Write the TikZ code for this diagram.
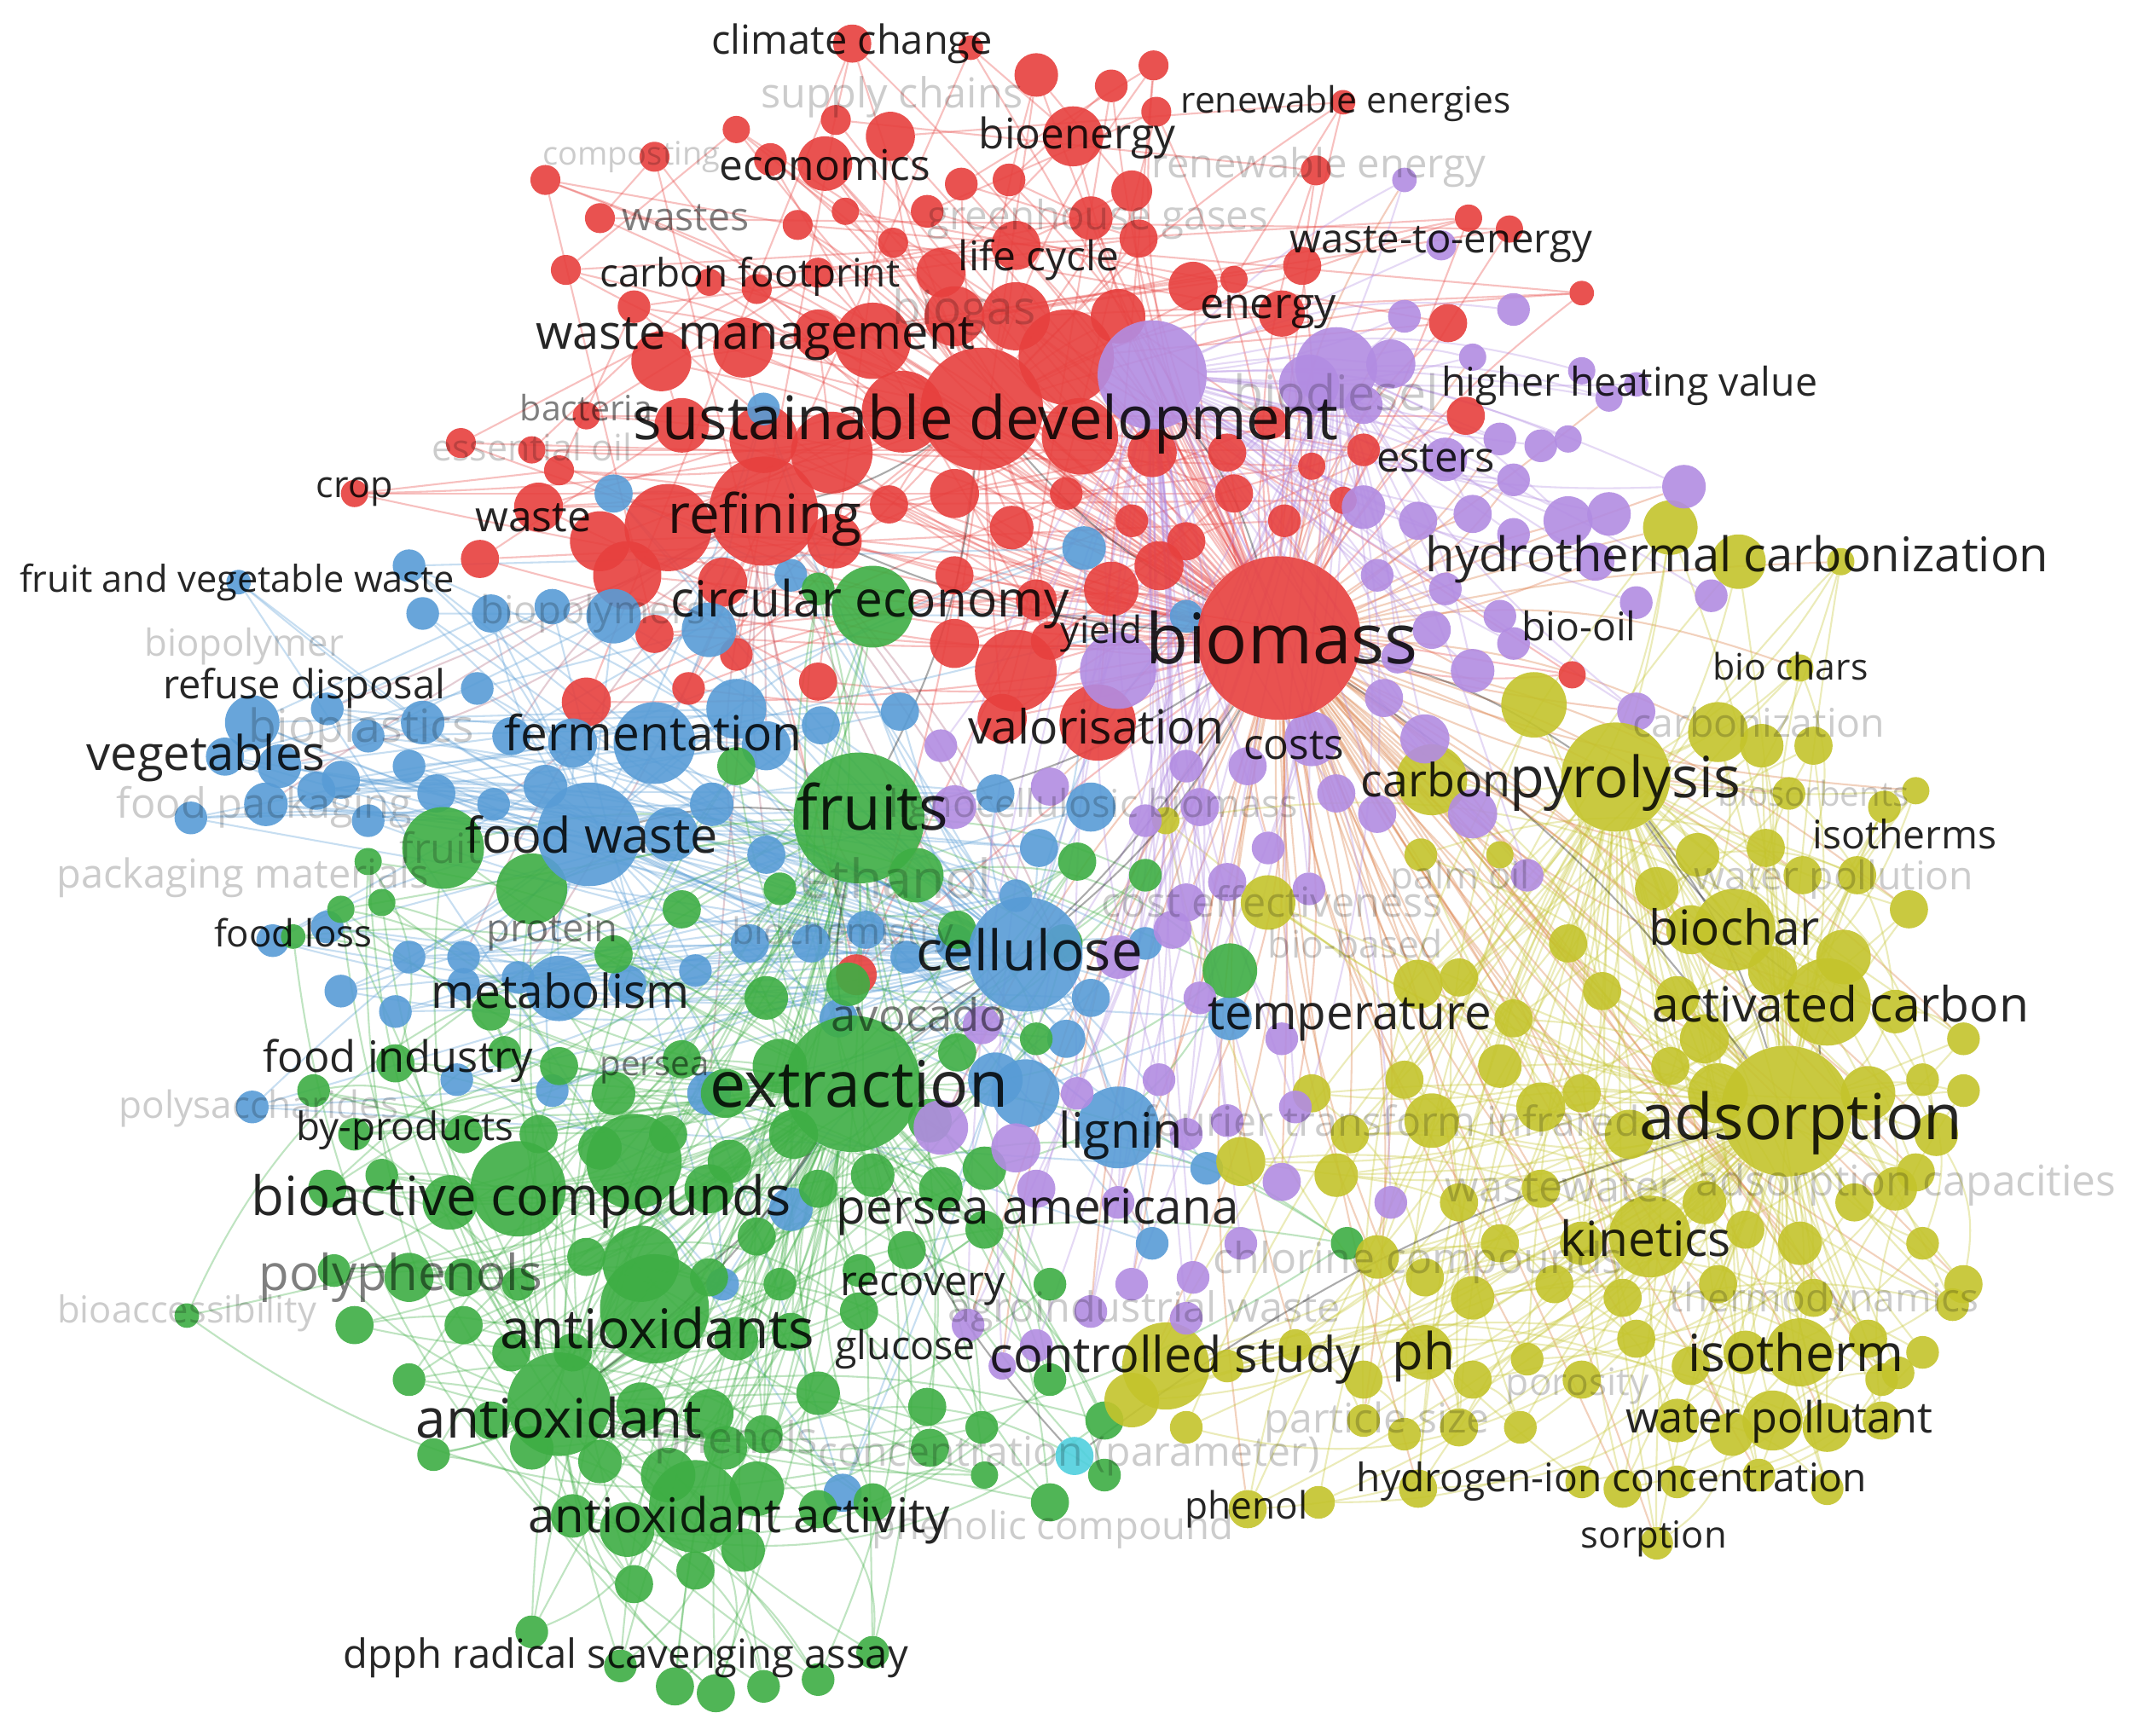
\documentclass[tikz,border=0pt]{standalone}
\usepackage{fontspec}
\setmainfont{Open Sans}
\usepackage{graphicx}
\pgfdeclarelayer{bg}
\pgfsetlayers{bg,main}
\definecolor{cR}{RGB}{231,64,62}
\definecolor{cB}{RGB}{88,156,214}
\definecolor{cG}{RGB}{62,174,68}
\definecolor{cY}{RGB}{196,196,44}
\definecolor{cP}{RGB}{178,140,226}
\definecolor{cC}{RGB}{80,208,222}
\tikzset{
  bub/.style={circle, inner sep=0pt, draw=none, fill opacity=0.9},
  rb/.style={bub, fill=cR},
  bb/.style={bub, fill=cB},
  gb/.style={bub, fill=cG},
  yb/.style={bub, fill=cY},
  pb/.style={bub, fill=cP},
  cb/.style={bub, fill=cC},
  edg/.style={line width=1.3pt, draw opacity=0.33},
  lab/.style={inner sep=0pt, text=black, text opacity=0.85},
  mlab/.style={inner sep=0pt, text=black, text opacity=0.5},
  glab/.style={inner sep=0pt, text=black, text opacity=0.2},
}
\begin{document}
\begin{tikzpicture}[x=1pt,y=-1pt]
\useasboundingbox (0,0) rectangle (1568,1273);
% ---------- circles ----------
\foreach \x/\y/\r [count=\i] in {625/32/14, 712/35/9, 760/55/16, 815/63/12, 846/48/11, 848/82/11, 653/100/18, 613/88/11, 540/95/10, 480/115/11, 400/132/11, 565/117/12, 605/120/20, 787/100/22, 830/140/15, 740/132/12, 705/135/12, 680/155/12, 985/75/9, 965/125/11,
 415/198/11, 440/160/11, 585/165/11, 620/155/10, 655/178/11, 690/200/18, 745/180/18, 800/160/16, 835/175/14, 875/210/18, 905/205/10, 955/195/14, 1077/160/10, 1107/168/10, 1160/215/9, 1062/237/14, 940/230/17, 555/212/11, 520/207/10, 600/200/11, 465/225/12, 485/265/22, 545/255/22, 600/245/18, 640/250/28, 700/232/22, 745/232/25, 782/262/35, 820/232/20,
 338/325/11, 390/330/10, 430/305/10, 410/345/11, 500/312/20, 560/322/25, 610/332/30, 662/302/30, 792/320/28, 845/332/18, 900/332/14, 932/310/12, 962/342/10, 1000/330/12, 1075/305/14,
 260/362/10, 352/410/14, 395/372/18, 440/397/22, 490/387/32, 612/397/20, 652/370/14, 700/362/18, 742/387/16, 782/362/12, 830/382/12, 870/397/14, 905/362/14, 942/382/12, 985/367/10, 460/422/25, 530/427/18, 700/422/14, 760/440/15, 815/432/20, 850/415/18,
 430/515/18, 505/505/12, 700/472/18, 745/492/30, 805/530/28, 735/527/18, 600/500/14, 540/480/12, 1153/495/10, 628/715/15, 480/465/14, 770/470/14}
 {\node[rb, minimum size=2*\r] (r\i) at (\x,\y) {}; \xdef\nR{\i}}
\foreach \x/\y/\r [count=\i] in {560/300/12, 450/362/14, 300/415/12, 310/450/12, 360/450/14, 405/445/13, 450/452/20, 175/427/9, 520/462/20, 580/422/12, 795/402/16, 870/452/12,
 185/530/20, 240/520/12, 270/540/12, 310/530/16, 350/505/12, 375/540/14, 420/545/18, 480/545/30, 540/520/22, 562/547/18, 602/532/14, 660/522/14, 165/555/14, 205/562/16, 250/572/14, 300/562/12,
 140/600/12, 195/590/16, 232/580/14, 270/602/12, 320/582/14, 362/590/12, 400/577/16, 492/612/20, 522/590/16, 562/627/14, 730/582/14, 800/592/18, 762/622/14, 745/657/12,
 200/690/12, 240/680/12, 300/702/12, 340/702/12, 250/727/12, 290/742/12, 340/722/12, 380/717/12, 410/725/24, 460/722/14, 510/712/12, 550/692/14, 595/692/14, 635/682/14, 700/692/14, 800/732/14, 840/692/12, 902/747/16, 615/747/14, 665/702/12,
 185/812/12, 335/792/12, 405/800/12, 520/802/16, 730/792/20, 752/802/25, 782/762/14, 820/827/30, 885/857/12,
 580/887/16, 530/942/12, 845/912/12, 618/1095/14}
 {\node[bb, minimum size=2*\r] (b\i) at (\x,\y) {}; \xdef\nB{\i}}
\foreach \x/\y/\r [count=\i] in {640/445/30, 600/432/12, 540/562/14, 325/622/30, 390/652/26, 672/642/20, 790/632/14, 840/642/12, 270/632/10, 215/687/9,
 250/667/10, 280/662/10, 360/742/14, 450/700/14, 500/667/14, 562/732/16, 622/722/16, 702/682/14, 780/692/14, 902/712/20, 572/652/12,
 230/800/12, 290/780/14, 370/772/12, 410/782/14, 450/802/16, 500/777/14, 532/802/18, 572/782/20, 582/832/18, 702/772/14, 760/762/12, 682/822/16, 722/857/16, 260/832/12, 340/832/14, 395/832/14, 440/842/16, 490/832/14, 535/852/16,
 240/872/14, 280/862/12, 330/882/20, 380/872/35, 465/852/35, 520/872/18, 555/907/14, 600/872/14, 640/862/16, 690/872/16, 722/902/14, 300/937/18, 245/932/12, 340/937/14, 380/942/12, 430/922/14, 470/927/28, 520/937/14, 572/942/12, 630/932/12, 665/917/14, 770/942/12, 988/912/12,
 260/972/14, 340/972/14, 375/992/14, 420/992/14, 540/982/16, 580/977/14, 630/962/14, 600/1022/16, 680/1032/14, 720/1047/12, 770/1012/12, 810/1042/14, 360/1042/14, 300/1012/12, 470/1032/18, 520/1037/18, 560/1052/14,
 318/1067/12, 390/1062/16, 440/1072/16, 490/1082/20, 532/1062/16, 555/1092/20, 510/1105/34, 460/1122/20, 420/1112/16, 600/1107/14, 640/1102/14, 682/1062/14, 770/1102/14, 810/1082/12, 465/1162/14, 510/1152/14, 545/1137/16, 390/1197/12, 455/1222/12, 495/1237/14, 525/1242/14, 560/1237/12, 600/1232/12, 640/1212/12, 722/1082/10, 137/965/9}
 {\node[gb, minimum size=2*\r] (g\i) at (\x,\y) {}; \xdef\nG{\i}}
\foreach \x/\y/\r [count=\i] in {1225/387/20, 1275/412/20, 1350/412/10, 1125/517/24, 1050/572/26, 1330/547/14, 1260/537/22, 1292/547/16, 1320/490/10,
 855/602/10, 1245/627/16, 1295/622/14, 1312/582/12, 1382/592/12, 1405/580/10, 1042/627/12, 1100/627/10, 930/662/20,
 1040/722/18, 1070/717/14, 1110/747/14, 1150/692/14, 1175/727/14, 1215/652/16, 1240/682/18, 1272/682/30, 1322/642/14, 1352/702/20, 1400/667/14, 1300/712/18, 1390/742/16, 1230/732/16, 1250/762/18, 1362/642/14,
 1030/792/14, 1050/822/20, 1100/782/16, 1130/812/18, 1160/802/14, 1195/832/18, 1225/782/14, 1260/802/22, 1370/802/20, 1410/792/12, 1420/832/16, 910/852/18, 990/832/14, 962/802/14, 1440/762/12,
 980/862/16, 1010/922/16, 1070/882/14, 1100/912/14, 1130/872/14, 1160/912/16, 1210/907/30, 1250/882/16, 1280/902/14, 1320/912/16, 1360/882/14, 1390/872/16, 1410/912/12, 1440/942/14, 1260/942/14, 1330/952/14, 1045/937/14, 1080/952/16, 1140/942/14, 1190/952/14,
 855/1002/32, 830/1027/20, 900/1002/12, 950/987/12, 1000/1012/14, 1045/992/20, 1080/1012/14, 1120/997/12, 1160/1012/14, 1200/982/14, 1240/1002/14, 1280/992/16, 1320/992/25, 1370/982/14, 1410/992/12, 1380/1012/12, 1230/1042/16, 1270/1052/16, 1300/1042/22, 1340/1047/18, 1380/1042/14, 1000/1042/12, 1030/1052/12, 1070/1047/14, 1115/1047/12, 1432/957/12,
 870/1047/12, 915/1107/14, 967/1102/12, 1040/1092/14, 1160/1087/12, 1190/1092/14, 1230/1087/12, 1290/1082/12, 1340/1092/12, 1215/1132/12, 1392/1007/12, 1405/860/14, 1440/800/12}
 {\node[yb, minimum size=2*\r] (y\i) at (\x,\y) {}; \xdef\nY{\i}}
\foreach \x/\y/\r [count=\i] in {1030/132/9, 1057/180/11, 1030/232/12, 1110/227/12, 1020/267/18, 960/282/22, 1080/262/10, 1160/272/10, 1180/292/10, 1200/282/9, 1000/297/14,
 1060/337/16, 1100/322/12, 1130/327/12, 1110/352/12, 1150/322/10, 1000/372/16, 1040/382/14, 1080/377/14, 1110/392/12, 1150/382/18, 1180/377/16, 1235/357/16, 1010/422/12, 1060/432/12, 1100/452/12, 1170/412/14, 1255/437/12, 1050/462/14, 1200/442/12,
 820/492/28, 1015/512/14, 1080/492/16, 1110/472/12, 1025/482/12, 962/542/20, 1045/542/18, 915/562/14, 870/562/12, 690/547/12, 1200/522/14,
 700/592/16, 770/577/14, 880/592/14, 930/622/12, 980/582/14, 1010/597/14, 1080/597/18, 1120/642/12, 840/602/12, 960/652/12, 900/647/14, 870/662/14,
 720/752/14, 820/702/16, 860/682/14, 880/732/12, 940/762/12, 690/827/20, 745/842/18, 790/802/12, 850/792/12, 870/832/12, 900/822/12, 950/812/12,
 760/872/14, 820/882/12, 910/912/12, 940/867/14, 1020/882/12, 830/942/12, 875/937/12, 710/972/12, 760/987/12, 800/962/12, 870/967/12, 735/1002/10}
 {\node[pb, minimum size=2*\r] (p\i) at (\x,\y) {}; \xdef\nP{\i}}
% hubs
\node[pb, minimum size=80] (biodiesel) at (845,275) {};
\node[pb, minimum size=60] (purpB) at (980,270) {};
\node[rb, minimum size=90] (susdev) at (720,300) {};
\node[rb, minimum size=80] (refining) at (560,375) {};
\node[rb, minimum size=120] (biomass) at (938,468) {};
\node[gb, minimum size=96] (fruitsN) at (630,600) {};
\node[gb, minimum size=100] (extractionN) at (625,795) {};
\node[gb, minimum size=80] (antioxidantsN) at (480,960) {};
\node[gb, minimum size=76] (antioxidantN) at (410,1030) {};
\node[bb, minimum size=84] (celluloseN) at (752,700) {};
\node[bb, minimum size=76] (foodwasteN) at (432,612) {};
\node[yb, minimum size=96] (adsorptionN) at (1310,815) {};
\node[yb, minimum size=80] (pyrolysisN) at (1185,570) {};
\node[yb, minimum size=64] (activatedN) at (1340,735) {};
\node[cb, minimum size=28] (cyanN) at (788,1068) {};
% ---------- connectors ----------
\begin{pgfonlayer}{bg}
\fill[white] (0,0) rectangle (1568,1273);
\foreach \i [evaluate=\i as \b using {int(mod(\i*37,31)-15)}] in {1,...,\nR} {\draw[edg,cR] (biomass) to[bend left=\b] (r\i);}
\foreach \i [evaluate=\i as \b using {int(mod(\i*13,23)-11)}] in {1,3,...,\nR} {\draw[edg,cR] (susdev) to[bend left=\b] (r\i);}
\foreach \i [evaluate=\i as \j using {int(mod(\i+11,\nR)+1)}] in {1,...,\nR} {\draw[edg,cR] (r\i) -- (r\j);}
\foreach \i [evaluate=\i as \b using {int(mod(\i*29,31)-15)}] in {1,3,...,\nP} {\draw[edg,cR!70!cY] (biomass) to[bend left=\b] (p\i);}
\foreach \i [evaluate=\i as \b using {int(mod(\i*17,31)-15)}] in {1,3,...,\nY} {\draw[edg,cR!60!cY] (biomass) to[bend left=\b] (y\i);}
\foreach \i [evaluate=\i as \b using {int(mod(\i*19,31)-15)}] in {2,6,...,\nB} {\draw[edg,cR!60!cB] (refining) to[bend left=\b] (b\i);}
\foreach \i [evaluate=\i as \b using {int(mod(\i*23,31)-15)}] in {1,...,\nB} {\draw[edg,cB] (celluloseN) to[bend left=\b] (b\i);}
\foreach \i [evaluate=\i as \b using {int(mod(\i*11,31)-15)}] in {1,3,...,\nB} {\draw[edg,cB] (foodwasteN) to[bend left=\b] (b\i);}
\foreach \i [evaluate=\i as \j using {int(mod(\i+7,\nB)+1)}] in {1,...,\nB} {\draw[edg,cB] (b\i) -- (b\j);}
\foreach \i [evaluate=\i as \b using {int(mod(\i*37,41)-20)}] in {1,...,\nG} {\draw[edg,cG] (extractionN) to[bend left=\b] (g\i);}
\foreach \i [evaluate=\i as \b using {int(mod(\i*13,41)-20)}] in {1,3,...,\nG} {\draw[edg,cG] (antioxidantN) to[bend left=\b] (g\i);}
\foreach \i [evaluate=\i as \b using {int(mod(\i*7,31)-15)}] in {2,5,...,\nG} {\draw[edg,cG] (fruitsN) to[bend left=\b] (g\i);}
\foreach \i [evaluate=\i as \j using {int(mod(\i+13,\nG)+1)}] in {1,...,\nG} {\draw[edg,cG] (g\i) to[bend left=25] (g\j);}
\foreach \i [evaluate=\i as \b using {int(mod(\i*37,31)-15)}] in {1,...,\nY} {\draw[edg,cY] (adsorptionN) to[bend left=\b] (y\i);}
\foreach \i [evaluate=\i as \b using {int(mod(\i*11,31)-15)}] in {1,3,...,\nY} {\draw[edg,cY] (pyrolysisN) to[bend left=\b] (y\i);}
\foreach \i [evaluate=\i as \j using {int(mod(\i+17,\nY)+1)}] in {1,...,\nY} {\draw[edg,cY] (y\i) to[bend left=20] (y\j);}
\foreach \i [evaluate=\i as \b using {int(mod(\i*23,31)-15)}] in {1,...,\nP} {\draw[edg,cP] (biodiesel) to[bend left=\b] (p\i);}
\foreach \i [evaluate=\i as \b using {int(mod(\i*13,31)-15)}] in {1,3,...,\nP} {\draw[edg,cP] (purpB) to[bend left=\b] (p\i);}
\foreach \a/\c in {biomass/susdev, biomass/refining, biomass/fruitsN, biomass/pyrolysisN, biomass/adsorptionN, biomass/celluloseN, biomass/extractionN, susdev/refining, susdev/fruitsN, extractionN/fruitsN, extractionN/antioxidantN, extractionN/antioxidantsN, extractionN/celluloseN, pyrolysisN/adsorptionN, activatedN/adsorptionN, activatedN/pyrolysisN, foodwasteN/fruitsN, cyanN/extractionN, cyanN/adsorptionN, biodiesel/biomass}
 {\draw[edg] (\a) to[bend left=10] (\c);}
\end{pgfonlayer}
% ---------- labels ----------
\foreach \x/\y/\w/\t [count=\i] in {654/71/192/supply chains, 463/115/130/composting, 967/123/245/renewable energy, 805/161/250/greenhouse gases, 707/229/105/biogas, 980/288/150/biodiesel, 390/328/147/essential oil, 179/474/146/biopolymer, 435/450/165/biopolymers, 265/536/165/bioplastics, 194/592/217/food packaging, 178/644/273/packaging materials, 323/622/60/fruit, 657/644/140/ethanol, 802/592/300/lignocellulosic biomass, 1071/645/102/palm oil, 933/661/250/cost effectiveness, 994/692/128/bio-based, 618/686/162/biochemistry, 190/813/205/polysaccharides, 1290/530/185/carbonization, 1330/582/140/biosorbents, 1345/645/205/water pollution, 1020/822/365/fourier transform infrared, 1398/869/308/adsorption capacities, 1145/871/170/wastewater, 1040/926/300/chlorine compounds, 1338/955/227/thermodynamics, 839/962/288/agroindustrial waste, 1157/1017/105/porosity, 1010/1043/165/particle size, 540/1058/120/phenols, 784/1068/368/concentration (parameter), 772/1122/265/phenolic compound, 137/963/190/bioaccessibility}
 {\node[glab] (gl\i) at (\x,\y) {\resizebox{\w pt}{!}{\t}};}
\foreach \x/\y/\w/\t [count=\i] in {503/160/93/wastes, 430/299/97/bacteria, 405/684/96/protein, 294/937/208/polyphenols, 480/785/80/persea, 674/744/129/avocado}
 {\node[mlab] (ml\i) at (\x,\y) {\resizebox{\w pt}{!}{\t}};}
\foreach \x/\y/\w/\t [count=\i] in {625/32/206/climate change, 987/76/242/renewable energies, 790/101/144/bioenergy, 605/121/155/economics, 550/203/220/carbon footprint, 762/191/118/life cycle, 930/229/100/energy, 1057/179/222/waste-to-energy, 554/249/322/waste management, 723/311/517/sustainable development, 1195/283/276/higher heating value, 1053/336/87/esters, 260/361/56/crop, 391/380/85/waste, 561/381/142/refining, 1274/410/457/hydrothermal carbonization, 174/427/319/fruit and vegetable waste, 638/443/292/circular economy, 808/465/60/yield, 940/468/200/biomass, 1158/459/84/bio-oil, 1313/489/114/bio chars, 223/505/207/refuse disposal, 151/556/175/vegetables, 479/537/218/fermentation, 804/533/188/valorisation, 949/547/74/costs, 640/592/111/fruits, 1053/572/110/carbon, 1192/574/169/pyrolysis, 1397/612/135/isotherms, 434/612/185/food waste, 215/684/116/food loss, 1272/680/125/biochar, 755/697/166/cellulose, 411/727/190/metabolism, 1350/736/276/activated carbon, 990/748/208/temperature, 292/778/198/food industry, 630/795/219/extraction, 297/829/159/by-products, 1321/824/237/adsorption, 822/833/91/lignin, 382/881/396/bioactive compounds, 761/889/295/persea americana, 1207/908/125/kinetics, 482/974/230/antioxidants, 677/946/121/recovery, 664/990/103/glucose, 862/997/272/controlled study, 1044/995/46/ph, 1317/992/158/isotherm, 410/1040/210/antioxidant, 1305/1043/225/water pollutant, 1182/1087/374/hydrogen-ion concentration, 914/1107/90/phenol, 1213/1129/107/sorption, 542/1115/309/antioxidant activity, 459/1216/414/dpph radical scavenging assay}
 {\node[lab] (kl\i) at (\x,\y) {\resizebox{\w pt}{!}{\t}};}
\end{tikzpicture}
\end{document}
